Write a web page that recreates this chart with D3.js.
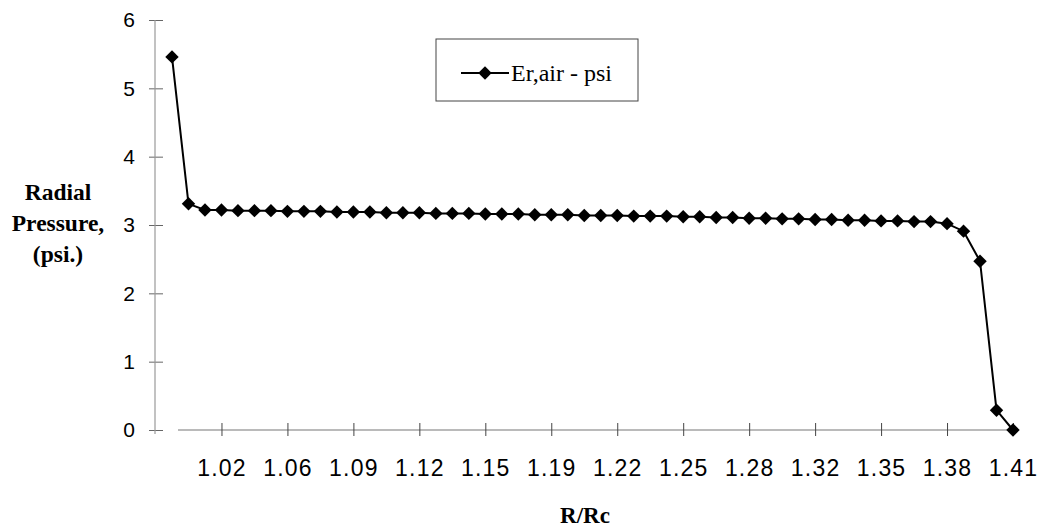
<!doctype html>
<html>
<head>
	<meta charset="utf-8">
	<script src="https://d3js.org/d3.v7.min.js" type="text/javascript"></script>
	<style>
		body { margin: 0; background: #fff; }
		#chart { width: 1048px; height: 531px; }
	</style>
</head>
<body>
	<div id="chart"></div>
	<script type="text/javascript">

		//R/Rc values, one per category
		const categories = [
			1.000, 1.008, 1.016, 1.024, 1.032, 1.041, 1.049, 1.057, 1.065, 1.073,
			1.081, 1.089, 1.097, 1.105, 1.113, 1.122, 1.130, 1.138, 1.146, 1.154,
			1.162, 1.170, 1.178, 1.186, 1.194, 1.203, 1.211, 1.219, 1.227, 1.235,
			1.243, 1.251, 1.259, 1.267, 1.275, 1.284, 1.292, 1.300, 1.308, 1.316,
			1.324, 1.332, 1.340, 1.348, 1.356, 1.365, 1.373, 1.381, 1.389, 1.397,
			1.405, 1.413
		];

		//Er,air - psi
		const pressure = [
			5.46, 3.31, 3.22, 3.22, 3.21, 3.21, 3.21, 3.20, 3.20, 3.20,
			3.19, 3.19, 3.19, 3.18, 3.18, 3.18, 3.17, 3.17, 3.17, 3.16,
			3.16, 3.16, 3.15, 3.15, 3.15, 3.14, 3.14, 3.14, 3.13, 3.13,
			3.13, 3.12, 3.12, 3.11, 3.11, 3.10, 3.10, 3.09, 3.09, 3.08,
			3.08, 3.07, 3.07, 3.06, 3.06, 3.05, 3.05, 3.02, 2.91, 2.47,
			0.29, 0.00
		];

		//Every fourth category gets a label
		const labelIndex = [3, 7, 11, 15, 19, 23, 27, 31, 35, 39, 43, 47, 51];
		const yTicks = [0, 1, 2, 3, 4, 5, 6];
		const yTitleLines = ["Radial", "Pressure,", "(psi.)"];

		const width = 1048, height = 531;

		let svg = d3.select("#chart").append("svg")
			.attr("width", width)
			.attr("height", height);

		let x = d3.scalePoint()
			.domain(d3.range(categories.length))
			.range([172, 1013]);

		let y = d3.scaleLinear()
			.domain([0, 6])
			.range([430, 20]);

		// y axis, ticks cross the line
		let yAxis = svg.append("g")
			.attr("transform", "translate(155,0)")
			.call(d3.axisLeft(y).tickValues(yTicks).tickFormat(d3.format("d")).tickSize(6).tickPadding(14));
		yAxis.select(".domain").remove();
		yAxis.selectAll(".tick line").attr("x1", 8).attr("x2", -6).attr("stroke", "#666");
		yAxis.selectAll(".tick text")
			.attr("font-family", "Liberation Sans, Arial, sans-serif")
			.attr("font-size", 21)
			.attr("fill", "#000");
		yAxis.append("line")
			.attr("y1", y(6)).attr("y2", y(0) + 4)
			.attr("stroke", "#999").attr("stroke-width", 1.2);

		// x axis
		let xAxis = svg.append("g")
			.attr("transform", "translate(0," + y(0) + ")")
			.call(d3.axisBottom(x)
				.tickValues(labelIndex)
				.tickFormat(function (i) { return categories[i].toFixed(2); })
				.tickSize(7)
				.tickPadding(23));
		xAxis.select(".domain").remove();
		xAxis.selectAll(".tick line").attr("y1", -7).attr("y2", 6).attr("stroke", "#444");
		xAxis.selectAll(".tick text")
			.attr("font-family", "Liberation Sans, Arial, sans-serif")
			.attr("font-size", 23)
			.attr("letter-spacing", 1.2)
			.attr("fill", "#000");
		xAxis.insert("line", ".tick")
			.attr("x1", x(0) + 6).attr("x2", x(categories.length - 1))
			.attr("stroke", "#777").attr("stroke-width", 1.2);

		// series line
		let line = d3.line()
			.x(function (d, i) { return x(i); })
			.y(function (d) { return y(d); });

		svg.append("path")
			.datum(pressure)
			.attr("d", line)
			.attr("fill", "none")
			.attr("stroke", "#000")
			.attr("stroke-width", 2);

		let diamond = d3.symbol().type(d3.symbolSquare).size(90);

		svg.selectAll(".marker")
			.data(pressure)
			.enter().append("path")
			.attr("class", "marker")
			.attr("d", diamond)
			.attr("transform", function (d, i) { return "translate(" + x(i) + "," + y(d) + ") rotate(45)"; })
			.attr("fill", "#000");

		// axis titles
		let yTitle = svg.append("text")
			.attr("font-family", "Liberation Serif, Times New Roman, serif")
			.attr("font-weight", "bold")
			.attr("font-size", 23.5)
			.attr("text-anchor", "middle")
			.attr("fill", "#000");
		yTitleLines.forEach(function (t, i) {
			yTitle.append("tspan").attr("x", 58).attr("y", 200 + i * 31).text(t);
		});

		svg.append("text")
			.attr("x", 585).attr("y", 523)
			.attr("font-family", "Liberation Serif, Times New Roman, serif")
			.attr("font-weight", "bold")
			.attr("font-size", 23)
			.attr("text-anchor", "middle")
			.attr("fill", "#000")
			.text("R/Rc");

		// legend
		let legend = svg.append("g");
		legend.append("rect")
			.attr("x", 436).attr("y", 39)
			.attr("width", 202).attr("height", 62)
			.attr("fill", "none")
			.attr("stroke", "#444")
			.attr("stroke-width", 1);
		legend.append("line")
			.attr("x1", 461).attr("x2", 509)
			.attr("y1", 73).attr("y2", 73)
			.attr("stroke", "#000").attr("stroke-width", 2);
		legend.append("path")
			.attr("d", diamond)
			.attr("transform", "translate(485,73) rotate(45)")
			.attr("fill", "#000");
		legend.append("text")
			.attr("x", 511).attr("y", 81)
			.attr("font-family", "Liberation Serif, Times New Roman, serif")
			.attr("font-size", 24)
			.attr("fill", "#000")
			.text("Er,air - psi");

	</script>
</body>
</html>
